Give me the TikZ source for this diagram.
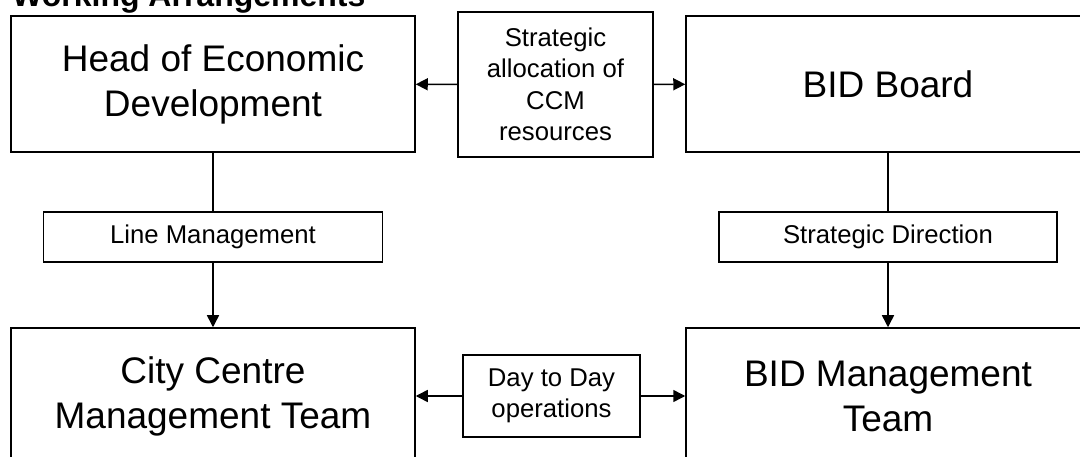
\documentclass[tikz,border=0pt]{standalone}
\usepackage{fontspec}
\setmainfont{Liberation Sans}
\usetikzlibrary{arrows.meta}

\begin{document}
\begin{tikzpicture}[x=1pt,y=-1pt]

\tikzset{bigbox/.style = {shape=rectangle,draw,line width=1.5pt,inner sep=0pt,minimum width=404pt,minimum height=136pt,align=center,font=\fontsize{37}{45}\selectfont}}
\tikzset{smallbox/.style = {shape=rectangle,draw,line width=1.5pt,inner sep=0pt,align=center,font=\fontsize{25.7}{31.5}\selectfont}}
\tikzset{edge/.style = {->,line width=1.5pt,> = {Triangle[length=12pt,width=12pt]}}}
\useasboundingbox (0,0) rectangle (1080,457);
%title
\node[anchor=base west,inner sep=0pt,font=\fontsize{32}{38}\selectfont\bfseries] (title) at (12,7) {Working Arrangements};
%boxes
\node[bigbox] (head) at  (213,84) {Head of Economic\\Development};
\node[bigbox] (board) at  (888,84) {BID Board};
\node[bigbox] (ccm) at  (213,396) {City Centre\\Management Team};
\node[bigbox] (bidmt) at  (888,396) {BID Management\\Team};
%labels
\node[smallbox,minimum width=195pt,minimum height=145pt] (alloc) at  (555.5,84.5) {Strategic\\allocation of\\CCM\\resources};
\node[smallbox,minimum width=339pt,minimum height=50pt] (linemgmt) at  (213,237) {Line Management};
\node[smallbox,minimum width=338pt,minimum height=50pt] (direction) at  (888,237) {Strategic Direction};
\node[smallbox,minimum width=177pt,minimum height=82pt] (daytoday) at  (551.5,396) {Day to Day\\operations};
%edges
\draw [edge] (alloc) -- (head);
\draw [edge] (alloc) -- (board);
\draw [line width=1.5pt] (head) -- (linemgmt);
\draw [edge] (linemgmt) -- (ccm);
\draw [line width=1.5pt] (board) -- (direction);
\draw [edge] (direction) -- (bidmt);
\draw [edge] (daytoday) -- (ccm);
\draw [edge] (daytoday) -- (bidmt);

\end{tikzpicture}
\end{document}
